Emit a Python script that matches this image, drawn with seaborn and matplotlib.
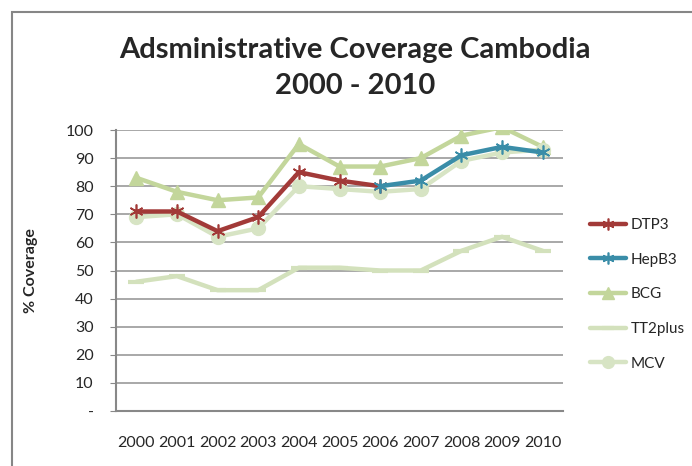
import numpy as np
import pandas as pd
import matplotlib
matplotlib.use("Agg")
import matplotlib.pyplot as plt
import seaborn as sns
from matplotlib.patches import Rectangle

years = ["2000", "2001", "2002", "2003", "2004", "2005", "2006", "2007", "2008", "2009", "2010"]
dtp3 = [71, 71, 64, 69, 85, 82, 80, np.nan, np.nan, np.nan, np.nan]
hepb3 = [np.nan, np.nan, np.nan, np.nan, np.nan, np.nan, 80, 82, 91, 94, 92]
bcg = [83, 78, 75, 76, 95, 87, 87, 90, 98, 101, 94]
tt2plus = [46, 48, 43, 43, 51, 51, 50, 50, 57, 62, 57]
mcv = [69, 70, 62, 65, 80, 79, 78, 79, 89, 92, 93]
y_ticks = [0, 10, 20, 30, 40, 50, 60, 70, 80, 90, 100]
y_labels = ["-", "10", "20", "30", "40", "50", "60", "70", "80", "90", "100"]

series = {"DTP3": dtp3, "HepB3": hepb3, "BCG": bcg, "TT2plus": tt2plus, "MCV": mcv}
colors = {"DTP3": "#A23A38", "HepB3": "#3A8DA8", "BCG": "#C3D69B",
          "TT2plus": "#D3E1BC", "MCV": "#D7E4C4"}
markers = {"DTP3": (6, 2, 0), "HepB3": (6, 2, 0), "BCG": "^", "TT2plus": "_", "MCV": "o"}
msize = {"DTP3": 10, "HepB3": 10, "BCG": 10, "TT2plus": 11, "MCV": 10}
medge = {"DTP3": 1.2, "HepB3": 1.2, "BCG": 1, "TT2plus": 3, "MCV": 1}

df = pd.DataFrame(series)
df["x"] = np.arange(len(years))
long_df = df.melt(id_vars="x", var_name="vaccine", value_name="coverage")

sns.set_style("white")
plt.rcParams["font.family"] = ["Lato", "DejaVu Sans"]

fig = plt.figure(figsize=(6.92, 4.66), dpi=100)
ax = fig.add_axes([116 / 692, 1 - 411 / 466, (563 - 116) / 692, (411 - 130) / 466])

order = ["DTP3", "HepB3", "BCG", "TT2plus", "MCV"]
# draw in Excel order: later series on top
z = {"DTP3": 3, "HepB3": 4, "BCG": 2, "TT2plus": 1, "MCV": 2.5}
for name in order:
    sub = long_df[long_df["vaccine"] == name]
    sns.lineplot(data=sub, x="x", y="coverage", ax=ax, color=colors[name],
                 marker=markers[name], markersize=msize[name], linewidth=3.2,
                 markeredgecolor=colors[name], markeredgewidth=medge[name],
                 label=name, zorder=z[name], clip_on=True)

ax.set_xlim(-0.5, len(years) - 0.5)
ax.set_ylim(0, 100)
ax.set_yticks(y_ticks)
ax.set_yticklabels(y_labels, fontsize=11.5)
ax.set_xticks(np.arange(len(years)))
ax.set_xticklabels(years, fontsize=11.5)
ax.tick_params(axis="x", length=0, pad=18)
ax.tick_params(axis="y", length=4, color="#888888", direction="out", pad=12, left=True)
ax.grid(axis="y", color="#999999", linewidth=1.2)
ax.set_axisbelow(True)
for side in ["top", "right"]:
    ax.spines[side].set_visible(False)
for side in ["left", "bottom"]:
    ax.spines[side].set_color("#888888")
    ax.spines[side].set_linewidth(1.5)
ax.set_xlabel("")
ax.set_ylabel("% Coverage", fontsize=11.5, fontweight="bold", labelpad=20)

ax.legend(loc="center left", bbox_to_anchor=(1.06, 0.415), frameon=False,
          fontsize=11, labelspacing=1.35, handlelength=2.4, handletextpad=0.25,
          borderpad=0, borderaxespad=0, markerscale=0.85)

fig.text(355 / 692, 1 - 68 / 466, "Adsministrative Coverage Cambodia\n2000 - 2010",
         ha="center", va="center", fontsize=21, fontweight="bold", linespacing=1.45)

fig.patches.append(Rectangle((12 / 692, -0.1), 1.2, 1 - 12 / 466 + 0.1,
                             transform=fig.transFigure, fill=False,
                             edgecolor="#868686", linewidth=1.5))

fig.savefig("out.png", dpi=100)
